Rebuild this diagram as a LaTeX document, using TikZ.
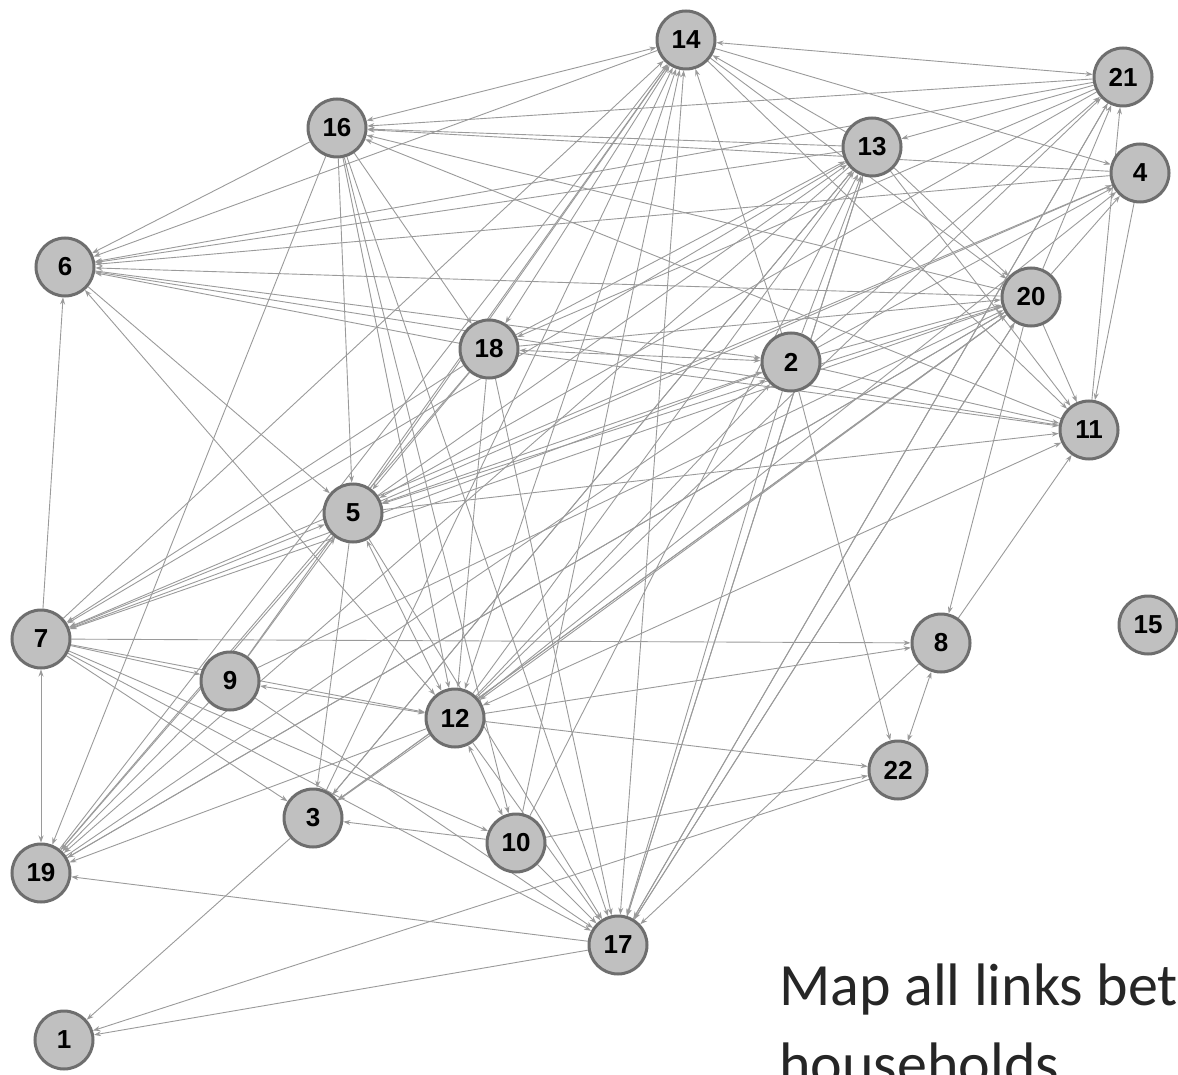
\documentclass[tikz,border=0pt]{standalone}
\usepackage{fontspec}
\setmainfont{Liberation Sans}
\newfontfamily\capfont{Carlito}
\usetikzlibrary{arrows.meta,backgrounds}
\definecolor{nodefill}{HTML}{C0C0C0}
\definecolor{nodeline}{HTML}{6E6E6E}
\definecolor{edgecol}{HTML}{9A9A9A}
\definecolor{captxt}{HTML}{262626}
\tikzset{
  hh/.style={circle, minimum size=58pt, inner sep=0pt, fill=nodefill, draw=nodeline, line width=3pt, font=\bfseries\fontsize{26}{26}\selectfont},
  edge/.style={draw=edgecol, line width=0.9pt, -{Stealth[length=7pt,width=5pt]}},
  bedge/.style={draw=edgecol, line width=0.9pt, {Stealth[length=7pt,width=5pt]}-{Stealth[length=7pt,width=5pt]}},
}
\begin{document}
\begin{tikzpicture}[x=1pt,y=-1pt]
\useasboundingbox (0,0) rectangle (1178,1075);
\clip (0,0) rectangle (1178,1075);
\node[hh] (n14) at (686,40) {14};
\node[hh] (n21) at (1123,77) {21};
\node[hh] (n16) at (337,128) {16};
\node[hh] (n13) at (872,147) {13};
\node[hh] (n4) at (1140,173) {4};
\node[hh] (n6) at (65,267) {6};
\node[hh] (n20) at (1031,297) {20};
\node[hh] (n18) at (489,349) {18};
\node[hh] (n2) at (791,362) {2};
\node[hh] (n11) at (1089,430) {11};
\node[hh] (n5) at (353,513) {5};
\node[hh] (n7) at (41,639) {7};
\node[hh] (n15) at (1148,625) {15};
\node[hh] (n8) at (941,643) {8};
\node[hh] (n9) at (230,681) {9};
\node[hh] (n12) at (455,718) {12};
\node[hh] (n22) at (898,770) {22};
\node[hh] (n3) at (313,818) {3};
\node[hh] (n10) at (516,843) {10};
\node[hh] (n19) at (41,873) {19};
\node[hh] (n17) at (618,945) {17};
\node[hh] (n1) at (64,1040) {1};
\begin{pgfonlayer}{background}
\foreach \a/\b in {7/19, 7/5, 6/12, 16/14, 14/21, 18/14, 12/14, 17/14, 18/2, 5/2, 5/20, 12/20, 12/11, 12/5, 12/9, 12/10, 8/22}
  \draw[bedge] (n\a) -- (n\b);
\foreach \a/\b in {7/6, 18/7, 13/7, 2/7, 20/7, 4/7, 7/14, 7/8, 7/9, 7/12, 7/10, 7/17, 7/3,
  16/6, 14/6, 13/6, 21/6, 4/6, 20/6, 18/6, 11/6, 6/5,
  21/16, 13/16, 20/16, 4/16, 11/16, 16/18, 16/5, 16/12, 16/17, 16/10, 16/19,
  14/4, 14/20, 14/11, 5/14, 19/14, 10/14, 3/14, 9/14, 2/14, 13/14,
  21/13, 21/18, 21/5, 12/21, 17/21, 20/21, 11/21, 2/21,
  5/4, 12/4, 2/4, 20/4, 4/11,
  13/20, 18/20, 9/20, 19/20, 17/20, 3/20, 20/11, 20/8,
  6/2, 2/13, 2/20, 2/11, 2/17, 2/22, 19/2,
  18/11, 5/11, 8/11, 13/11,
  18/13, 5/13, 12/13, 17/13, 10/13, 3/13,
  5/19, 9/5, 5/3, 5/17,
  9/19, 12/19, 12/3, 12/17, 12/22, 12/8, 18/12, 12/2,
  18/17, 18/19, 18/5,
  10/17, 10/22, 10/3, 3/1, 17/19, 17/1, 22/1,
  8/17, 13/17, 20/17, 21/17, 9/17,
  20/3, 13/3, 20/19, 13/19}
  \draw[edge] (n\a) -- (n\b);
\end{pgfonlayer}
\node[anchor=base west, inner sep=0pt, text=captxt, font=\capfont\fontsize{60}{60}\selectfont] (cap1) at (779,1005) {Map all links bet};
\node[anchor=base west, inner sep=0pt, text=captxt, font=\capfont\fontsize{60}{60}\selectfont] (cap2) at (779,1084) {households};
\end{tikzpicture}
\end{document}
